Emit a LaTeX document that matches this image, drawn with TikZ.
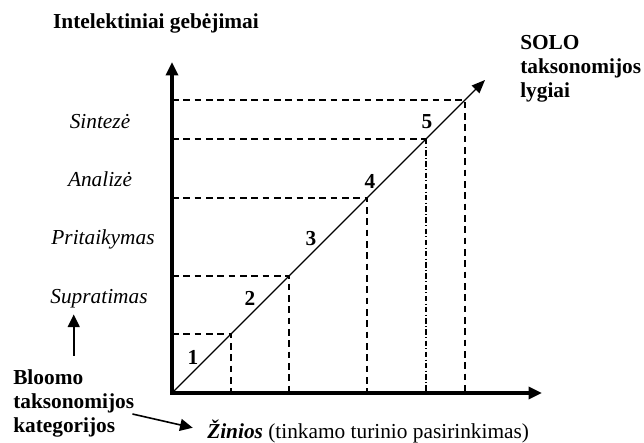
\documentclass[tikz,border=0pt]{standalone}
\usepackage{fontspec}
\setmainfont{Liberation Serif}
\usetikzlibrary{arrows.meta}
\tikzset{
    axis line/.style={
        line width=2.4pt,
        {Triangle[length=10pt,width=9pt]}-{Triangle[length=10pt,width=9pt]}
    },
    level line/.style={
        line width=1pt,
        -{Triangle[length=10pt,width=8pt]}
    },
    guide line/.style={
        line width=0.95pt,
        dash pattern=on 5pt off 3.5pt
    },
    guide dash dot/.style={
        line width=0.95pt,
        dash pattern=on 4pt off 1.8pt on 0.8pt off 1.8pt
    },
    pointer/.style={
        line width=1.2pt,
        -{Triangle[length=9.5pt,width=9pt]}
    },
    plain text/.style={
        inner sep=0pt,
        font=\fontsize{16}{18}\selectfont
    },
    bold text/.style={
        plain text,
        font=\fontsize{16}{18}\selectfont\bfseries
    },
    category label/.style={
        plain text,
        anchor=base,
        font=\fontsize{16}{18}\selectfont\itshape
    }
}
\begin{document}
\begin{tikzpicture}[x=0.75pt,y=-0.75pt]
                \useasboundingbox (0,0) rectangle (644,443);
                \coordinate (O) at (172,393);
                \coordinate (Ytip) at (172,62);
                \coordinate (Xtip) at (542,393);
                \coordinate (P1) at (231,334);
                \coordinate (P2) at (289,276);
                \coordinate (P3) at (367,198);
                \coordinate (P4) at (426,139);
                \coordinate (P5) at (465,100);
                \coordinate (Ptip) at (485,80);
                \foreach \p in {1,2,3,5} {
                    \draw[guide line] (O |- P\p) -- (P\p) -- (P\p |- O);
                }
                \draw[guide line] (O |- P4) -- (P4);
                \draw[guide dash dot] (P4) -- (P4 |- O);
                \draw[axis line] (Ytip) -- (O) -- (Xtip);
                \draw[level line] (O) -- (Ptip);
                \foreach \n/\x/\y in {1/193/357,2/250/298,3/311/239,4/370/181,5/427/122} {
                    \node[bold text] (num\n) at (\x,\y) {\n};
                }
                \node[bold text, anchor=base] (title) at (156,28) {Intelektiniai gebėjimai};
                \node[bold text, anchor=west, align=left] (solo) at (520,69) {SOLO\\taksonomijos\\lygiai};
                \node[category label] (sintez) at (100,128) {Sintezė};
                \node[category label] (analiz) at (100,186) {Analizė};
                \node[category label] (pritaik) at (103,244) {Pritaikymas};
                \node[category label] (suprat) at (99,303) {Supratimas};
                \node[bold text, anchor=west, align=left] (bloom) at (13,403) {Bloomo\\taksonomijos\\kategorijos};
                \node[plain text, anchor=base west] (zinios) at (207,438) {\textbf{\textit{Žinios}} (tinkamo turinio pasirinkimas)};
                \draw[pointer, shorten <=10pt, shorten >=5pt] (bloom.north) -- (bloom.north |- suprat.south);
                \draw[pointer, shorten >=11pt] ([shift={(-2,11)}]bloom.east) -- (zinios.west);
            \end{tikzpicture}
\end{document}
